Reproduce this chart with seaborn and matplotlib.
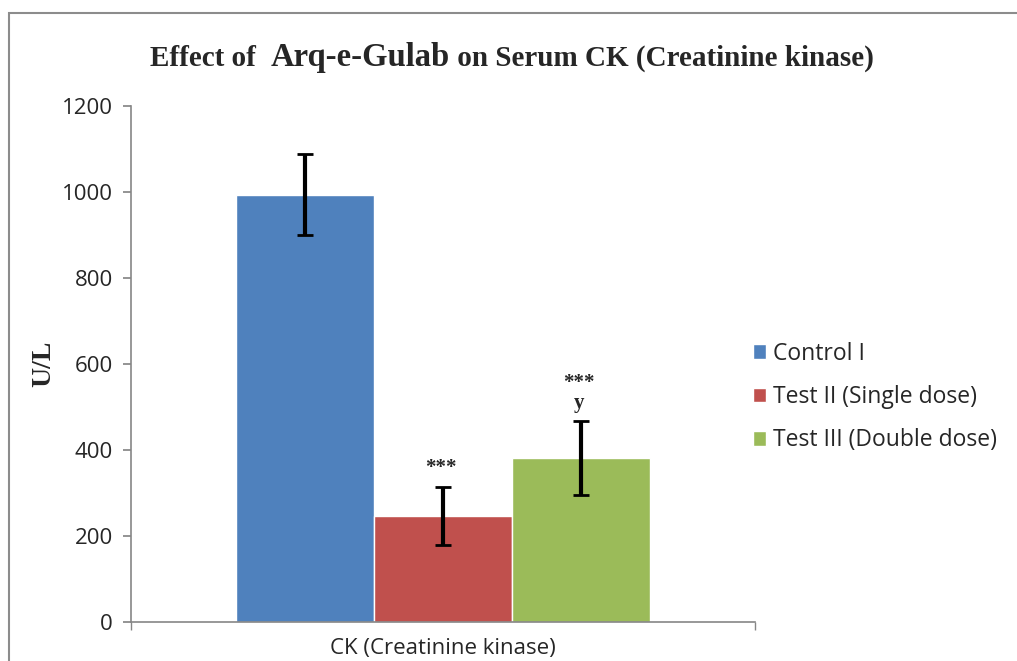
import pandas as pd
import numpy as np
import matplotlib.pyplot as plt
import matplotlib.patches as mpatches
import seaborn as sns

# data
category = "CK (Creatinine kinase)"
groups = ["Control I", "Test II (Single dose)", "Test III (Double dose)"]
means = [993, 246, 381]
err_low = [900, 180, 295]
err_high = [1088, 314, 467]
sig_labels = ["", "***", "***\ny"]
colors = ["#4F81BD", "#C0504D", "#9BBB59"]

df = pd.DataFrame({"cat": [category] * 3, "group": groups, "val": means})

sns.set_theme(style="white")
plt.rcParams["font.family"] = ["Open Sans", "DejaVu Sans"]

fig = plt.figure(figsize=(10.17, 6.61), dpi=100)
ax = fig.add_axes([131 / 1017, 1 - 622 / 661, (755 - 131) / 1017, (622 - 106) / 661])

sns.barplot(data=df, x="cat", y="val", hue="group", palette=colors,
            width=0.662, saturation=1, errorbar=None, ax=ax)

# error bars and significance marks on each bar
for patch, m, lo, hi, s in zip(ax.patches, means, err_low, err_high, sig_labels):
    xc = patch.get_x() + patch.get_width() / 2
    ax.errorbar(xc, m, yerr=[[m - lo], [hi - m]], fmt="none", ecolor="black",
                elinewidth=3, capsize=6, capthick=2)
    if s:
        ax.text(xc - 0.003, hi + 20, s, ha="center", va="bottom", fontsize=15,
                fontweight="bold", family="Liberation Serif", linespacing=0.95)

ax.set_ylim(0, 1200)
ax.set_yticks(range(0, 1201, 200))
ax.set_xlim(-0.5, 0.5)
ax.set_xticks([])
ax.set_xlabel(category, fontsize=16, labelpad=2)
ax.set_ylabel("U/L", fontsize=20, fontweight="bold", family="Liberation Serif", labelpad=4)
ax.tick_params(axis="y", labelsize=16, length=6, color="#868686", direction="out", left=True, pad=7)

for side in ["top", "right"]:
    ax.spines[side].set_visible(False)
for side in ["left", "bottom"]:
    ax.spines[side].set_color("#868686")
    ax.spines[side].set_linewidth(1.2)

# category boundary ticks on the x axis
ax.set_xticks([-0.5, 0.5], minor=True)
ax.tick_params(axis="x", which="minor", length=6, color="#868686", direction="out", bottom=True)

leg = ax.legend(loc="center left", bbox_to_anchor=(732 / 1017, 1 - 397 / 661),
                bbox_transform=fig.transFigure, frameon=False, fontsize=16.5,
                handlelength=0.6, handleheight=0.6, handletextpad=0.3, labelspacing=0.85)

# title in three pieces, the remedy name slightly larger
base_y = 1 - 66 / 661
t1 = fig.text(150 / 1017, base_y, "Effect of  ", ha="left", va="baseline",
              fontsize=21, fontweight="bold", family="Liberation Serif")
t2 = fig.text(0, base_y, "Arq-e-Gulab", va="baseline", fontsize=23.5, fontweight="bold",
              family="Liberation Serif")
t3 = fig.text(0, base_y, " on Serum CK (Creatinine kinase)", va="baseline", fontsize=21,
              fontweight="bold", family="Liberation Serif")
fig.canvas.draw()
r = fig.canvas.get_renderer()
t2.set_x(t1.get_window_extent(r).x1 / fig.bbox.width)
t3.set_x(t2.get_window_extent(r).x1 / fig.bbox.width)

# outer frame (cropped on the right and bottom)
fig.patches.append(mpatches.Rectangle((9 / 1017, -0.1), 1.2, 1.1 - 13 / 661,
                                      transform=fig.transFigure, fill=False,
                                      edgecolor="#8c8c8c", linewidth=1.5))

fig.savefig("out.png", dpi=100, facecolor="white")
